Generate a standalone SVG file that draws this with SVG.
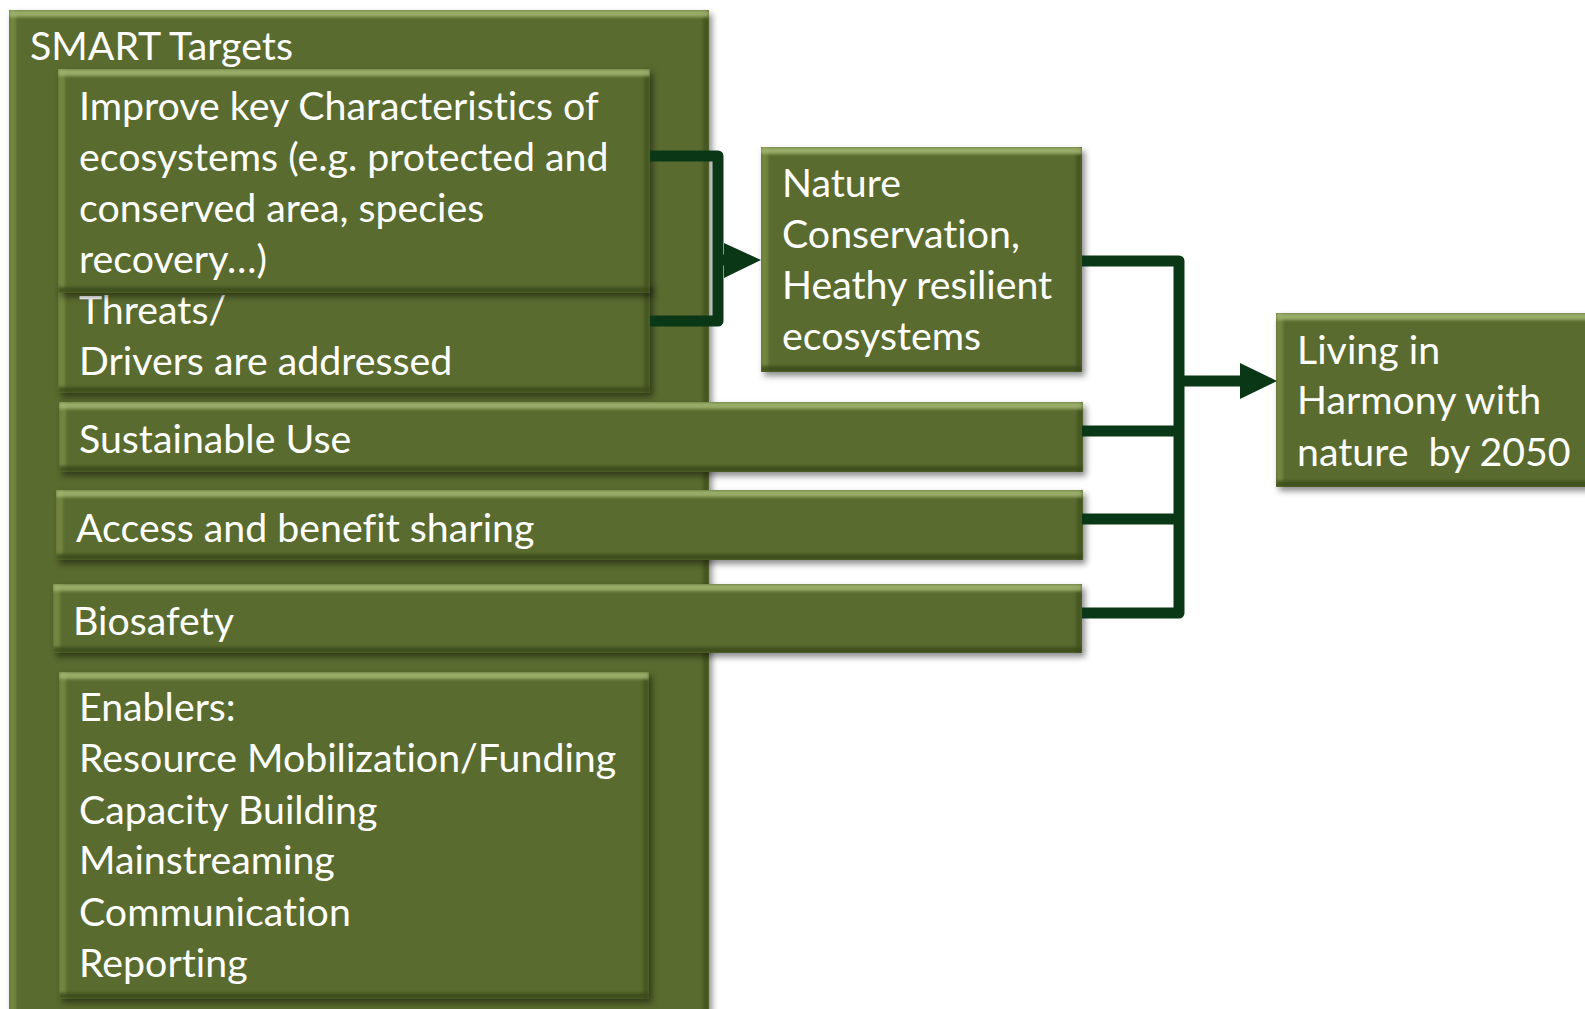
<svg xmlns="http://www.w3.org/2000/svg" width="1585" height="1009" viewBox="0 0 1585 1009">
<defs>
<filter id="bev" x="-3%" y="-5%" width="108%" height="130%" color-interpolation-filters="sRGB">
 <feOffset in="SourceAlpha" dx="3" dy="4" result="so"/>
 <feGaussianBlur in="so" stdDeviation="3" result="sb"/>
 <feFlood flood-color="#000" flood-opacity="0.45"/>
 <feComposite in2="sb" operator="in" result="shadow"/>
 <feOffset in="SourceAlpha" dx="0" dy="7" result="dn"/>
 <feComposite in="SourceAlpha" in2="dn" operator="out" result="topE"/>
 <feGaussianBlur in="topE" stdDeviation="1.8" result="topB"/>
 <feComposite in="topB" in2="SourceAlpha" operator="in" result="topC"/>
 <feFlood flood-color="#a4b872" flood-opacity="0.85"/>
 <feComposite in2="topC" operator="in" result="hiT"/>
 <feOffset in="SourceAlpha" dx="7" dy="0" result="rt"/>
 <feComposite in="SourceAlpha" in2="rt" operator="out" result="leftE"/>
 <feGaussianBlur in="leftE" stdDeviation="1.8" result="leftB"/>
 <feComposite in="leftB" in2="SourceAlpha" operator="in" result="leftC"/>
 <feFlood flood-color="#7d9248" flood-opacity="0.7"/>
 <feComposite in2="leftC" operator="in" result="hiL"/>
 <feOffset in="SourceAlpha" dx="0" dy="-6" result="up"/>
 <feComposite in="SourceAlpha" in2="up" operator="out" result="botE"/>
 <feGaussianBlur in="botE" stdDeviation="1.8" result="botB"/>
 <feComposite in="botB" in2="SourceAlpha" operator="in" result="botC"/>
 <feFlood flood-color="#3a4819" flood-opacity="0.8"/>
 <feComposite in2="botC" operator="in" result="loB"/>
 <feOffset in="SourceAlpha" dx="-6" dy="0" result="lf"/>
 <feComposite in="SourceAlpha" in2="lf" operator="out" result="rgtE"/>
 <feGaussianBlur in="rgtE" stdDeviation="1.8" result="rgtB"/>
 <feComposite in="rgtB" in2="SourceAlpha" operator="in" result="rgtC"/>
 <feFlood flood-color="#3f4e1c" flood-opacity="0.7"/>
 <feComposite in2="rgtC" operator="in" result="loR"/>
 <feMerge>
  <feMergeNode in="shadow"/>
  <feMergeNode in="SourceGraphic"/>
  <feMergeNode in="hiL"/>
  <feMergeNode in="loR"/>
  <feMergeNode in="loB"/>
  <feMergeNode in="hiT"/>
 </feMerge>
</filter>
</defs>
<style>
 .box { fill: #5a6b2f; filter: url(#bev); }
 .t { font-family: Lato, "Open Sans", "Liberation Sans", sans-serif; font-size: 39.3px; fill: #ffffff; font-variant-ligatures: none; white-space: pre; }
 .con { fill: none; stroke: #0a3816; stroke-width: 11; stroke-linejoin: round; }
 .head { fill: #0a3816; }
</style>
<rect width="1585" height="1009" fill="#ffffff"/>

<g id="smart-targets">
 <rect class="box" x="9" y="10" width="700" height="1010"/>
 <text class="t" x="30" y="60">SMART Targets</text>
</g>

<g id="threats">
 <rect class="box" x="58" y="283" width="592" height="110"/>
 <text class="t" x="79" y="324">Threats/</text>
 <text class="t" x="79" y="375">Drivers are addressed</text>
</g>

<g id="improve">
 <rect class="box" x="58" y="69" width="592" height="224"/>
 <text class="t" x="79" y="120">Improve key Characteristics of</text>
 <text class="t" x="79" y="171">ecosystems (e.g. protected and</text>
 <text class="t" x="79" y="222">conserved area, species</text>
 <text class="t" x="79" y="273">recovery…)</text>
</g>

<g id="sustainable-use">
 <rect class="box" x="59" y="402" width="1024" height="70"/>
 <text class="t" x="79" y="453">Sustainable Use</text>
</g>

<g id="access">
 <rect class="box" x="56" y="490" width="1027" height="70"/>
 <text class="t" x="76" y="542">Access and benefit sharing</text>
</g>

<g id="biosafety">
 <rect class="box" x="53" y="584" width="1029" height="69"/>
 <text class="t" x="73" y="635">Biosafety</text>
</g>

<g id="enablers">
 <rect class="box" x="59" y="672" width="590" height="327"/>
 <text class="t" x="79" y="721">Enablers:</text>
 <text class="t" x="79" y="772">Resource Mobilization/Funding</text>
 <text class="t" x="79" y="824">Capacity Building</text>
 <text class="t" x="79" y="874">Mainstreaming</text>
 <text class="t" x="79" y="926">Communication</text>
 <text class="t" x="79" y="977">Reporting</text>
</g>

<g id="nature-conservation">
 <rect class="box" x="761" y="147" width="321" height="225"/>
 <text class="t" x="782" y="197">Nature</text>
 <text class="t" x="782" y="248">Conservation,</text>
 <text class="t" x="782" y="299">Heathy resilient</text>
 <text class="t" x="782" y="350">ecosystems</text>
</g>

<g id="living-in-harmony">
 <rect class="box" x="1276" y="313" width="320" height="174"/>
 <text class="t" x="1297" y="364">Living in</text>
 <text class="t" x="1297" y="414">Harmony with</text>
 <text class="t" x="1297" y="466">nature  by 2050</text>
</g>

<g id="connectors">
 <path class="con" d="M650,156 H718 V321 H650"/>
 <path class="con" d="M718,260 H726"/>
 <polygon class="head" points="724,243 761,260 724,278"/>
 <path class="con" d="M1082,261 H1179 V613 H1082"/>
 <path class="con" d="M1082,431 H1179"/>
 <path class="con" d="M1082,519 H1179"/>
 <path class="con" d="M1179,381 H1242"/>
 <polygon class="head" points="1240,363 1277,381 1240,399"/>
</g>
</svg>
